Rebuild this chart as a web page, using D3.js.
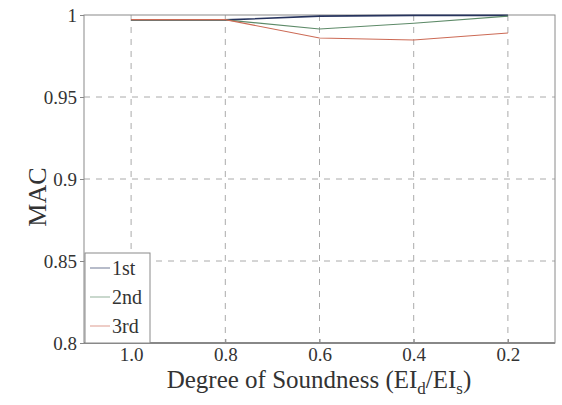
<!DOCTYPE html>
<html>
<head>
<meta charset="utf-8">
<title>MAC</title>
<script src="https://cdn.jsdelivr.net/npm/d3@7"></script>
<style>
  body { margin: 0; background: #fff; }
  text { font-family: "Liberation Serif", "Times New Roman", serif; fill: #333; }
</style>
</head>
<body>
<svg width="562" height="405"></svg>
<script>
// degree of soundness (x) and MAC for each mode
var degree = [1.0, 0.8, 0.6, 0.4, 0.2];
var mode1 = [0.997, 0.997, 0.9993, 0.9998, 0.9998];
var mode2 = [0.997, 0.997, 0.9915, 0.995, 0.9993];
var mode3 = [0.9972, 0.9972, 0.986, 0.9848, 0.989];
var names = ["1st", "2nd", "3rd"];
var colors = ["#27345e", "#5d8a68", "#cc6a55"];
var yTicks = [0.8, 0.85, 0.9, 0.95, 1];
var xTicks = [1.0, 0.8, 0.6, 0.4, 0.2];

var svg = d3.select("svg");
var pl = 84, pr = 555, pt = 15, pb = 343;

var x = d3.scaleLinear().domain([1.1, 0.1]).range([pl, pr]);
var y = d3.scaleLinear().domain([0.8, 1]).range([pb, pt]);

// grid
svg.append("g").selectAll("line").data(xTicks).enter().append("line")
  .attr("x1", d => x(d)).attr("x2", d => x(d))
  .attr("y1", pt).attr("y2", pb)
  .attr("stroke", "#aaa").attr("stroke-dasharray", "6,6");
svg.append("g").selectAll("line").data(yTicks.slice(1, 4)).enter().append("line")
  .attr("x1", pl).attr("x2", pr)
  .attr("y1", d => y(d)).attr("y2", d => y(d))
  .attr("stroke", "#aaa").attr("stroke-dasharray", "6,6");

// axes
var xAxis = svg.append("g").attr("transform", "translate(0," + pb + ")")
  .call(d3.axisBottom(x).tickValues(xTicks).tickFormat(d3.format(".1f")).tickSize(-4).tickPadding(10));
var yAxis = svg.append("g").attr("transform", "translate(" + pl + ",0)")
  .call(d3.axisLeft(y).tickValues(yTicks).tickFormat(d => d3.format("")(d)).tickSize(4).tickPadding(3));
[xAxis, yAxis].forEach(function(a){
  a.attr("font-family", "Liberation Serif").attr("font-size", 19);
  a.select(".domain").remove();
  a.selectAll("line").attr("stroke", "#888");
  a.selectAll("text").style("font-size", "19px").attr("fill", "#444");
});
xAxis.selectAll("text").attr("dy", "0.71em").attr("y", 5);

// frame
svg.append("rect").attr("x", pl).attr("y", pt)
  .attr("width", pr - pl).attr("height", pb - pt)
  .attr("fill", "none").attr("stroke", "#8a8a8a").attr("stroke-width", 1);
svg.append("line").attr("x1", pl).attr("x2", pr)
  .attr("y1", pb).attr("y2", pb).attr("stroke", "#888").attr("stroke-width", 2);

// lines
var series = [mode1, mode2, mode3];
var line = d3.line().x((d, i) => x(degree[i])).y(d => y(d));
series.forEach(function(s, k){
  svg.append("path").datum(s).attr("d", line)
    .attr("fill", "none").attr("stroke", colors[k]).attr("stroke-width", k == 0 ? 1.6 : 1.1);
});

// legend
var lg = svg.append("g");
lg.append("rect").attr("x", 85).attr("y", 253).attr("width", 65).attr("height", 90)
  .attr("fill", "#fff").attr("stroke", "#8a8a8a");
names.forEach(function(n, k){
  var yy = 268 + k * 29;
  lg.append("line").attr("x1", 90).attr("x2", 110).attr("y1", yy).attr("y2", yy)
    .attr("stroke", colors[k]).attr("stroke-opacity", 0.55).attr("stroke-width", 1.2);
  lg.append("text").attr("x", 112).attr("y", yy + 7).style("font-size", "20px").text(n);
});

// axis titles
svg.append("text").attr("transform", "translate(46,197) rotate(-90)")
  .attr("text-anchor", "middle").style("font-size", "26px").text("MAC");
var xt = svg.append("text").attr("x", 319).attr("y", 388)
  .attr("text-anchor", "middle").style("font-size", "25px");
xt.append("tspan").text("Degree of Soundness (EI");
xt.append("tspan").attr("dy", 6).style("font-size", "17px").text("d");
xt.append("tspan").attr("dy", -6).text("/EI");
xt.append("tspan").attr("dy", 6).style("font-size", "17px").text("s");
xt.append("tspan").attr("dy", -6).text(")");
</script>
</body>
</html>
